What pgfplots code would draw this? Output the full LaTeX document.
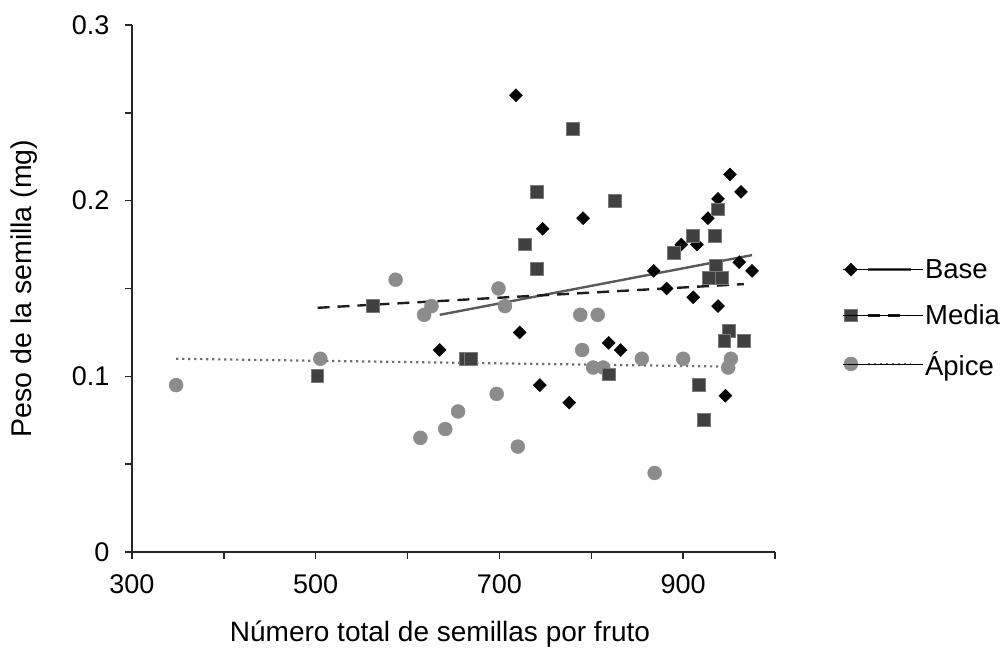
\documentclass[border=0pt]{standalone}
\usepackage{fontspec}
\setmainfont{Liberation Sans}
\usepackage{pgfplots}
\pgfplotsset{compat=1.18}

\definecolor{axisgray}{HTML}{262626}
\definecolor{basefill}{HTML}{050505}
\definecolor{medfill}{HTML}{404040}
\definecolor{medborder}{HTML}{7A7A7A}
\definecolor{apifill}{HTML}{8C8C8C}
\definecolor{baseln}{HTML}{5A5A5A}
\definecolor{medln}{HTML}{1E1E1E}
\definecolor{apiln}{HTML}{6E6E6E}

\tikzset{
  basemark/.style={mark=square*, mark size=4.6pt,
    mark options={rotate=45, fill=basefill, draw=basefill, line width=0.4pt, solid}},
  medmark/.style={mark=square*, mark size=6.4pt,
    mark options={fill=medfill, draw=medborder, line width=1pt, solid}},
  apimark/.style={mark=*, mark size=7pt,
    mark options={fill=apifill, draw=apifill, line width=0.4pt, solid}},
  basetrend/.style={color=baseln, line width=2.4pt, solid},
  medtrend/.style={color=medln, line width=2.4pt, dash pattern=on 12pt off 8pt},
  apitrend/.style={color=apiln, line width=2.2pt, dash pattern=on 2.2pt off 3.8pt},
}

\begin{document}
\begin{tikzpicture}[x=1pt,y=1pt]
\path[use as bounding box] (-132,-100) rectangle (871,552);
\begin{axis}[
  at={(0,0)}, anchor=south west,
  scale only axis, width=643pt, height=527pt,
  xmin=300, xmax=1000, ymin=0, ymax=0.3,
  axis x line*=bottom, axis y line*=left,
  axis line style={line width=1.4pt, color=axisgray},
  xtick={300,400,500,600,700,800,900,1000},
  xticklabels={300,,500,,700,,900,},
  ytick={0,0.05,0.1,0.15,0.2,0.25,0.3},
  yticklabels={0,,0.1,,0.2,,0.3},
  tick align=outside, major tick length=7pt,
  tick style={line width=1.4pt, color=axisgray},
  ticklabel style={font=\fontsize{27}{32}\selectfont, text=black},
  xticklabel style={yshift=-12pt},
  yticklabel style={xshift=-12pt},
  xlabel={Número total de semillas por fruto},
  ylabel={Peso de la semilla (mg)},
  xlabel style={at={(axis description cs:0.479,-0.155)}, anchor=center,
    font=\fontsize{28}{33}\selectfont, text=black},
  ylabel style={at={(axis description cs:-0.168,0.50)}, anchor=center,
    font=\fontsize{28.5}{33}\selectfont, text=black},
  clip=false,
  legend style={at={(axis description cs:1.105,0.444)}, anchor=west,
    draw=none, fill=none, font=\fontsize{27.5}{32}\selectfont,
    row sep=21pt, inner sep=0pt},
  legend cell align=left,
]
% Base (diamonds)
\addplot[only marks, basemark, forget plot] coordinates {
  (718,0.260) (747,0.184) (791,0.190) (722,0.125) (635,0.115)
  (744,0.095) (776,0.085) (819,0.119) (832,0.115) (868,0.160)
  (882,0.150) (898,0.175) (915,0.175) (911,0.145) (927,0.190)
  (938,0.201) (938,0.140) (951,0.215) (963,0.205) (961,0.165)
  (975,0.160) (946,0.089)
};
% Apice (circles)
\addplot[only marks, apimark, forget plot] coordinates {
  (348,0.095) (505,0.110) (587,0.155) (618,0.135) (626,0.140)
  (614,0.065) (641,0.070) (655,0.080) (697,0.090) (699,0.150)
  (706,0.140) (720,0.060) (788,0.135) (807,0.135) (790,0.115)
  (802,0.105) (813,0.105) (855,0.110) (900,0.110) (869,0.045)
  (952,0.110) (949,0.105)
};
% Media (squares)
\addplot[only marks, medmark, forget plot] coordinates {
  (502,0.100) (562,0.140) (663,0.110) (669,0.110) (728,0.175)
  (741,0.205) (741,0.161) (780,0.241) (826,0.200) (819,0.101)
  (890,0.170) (911,0.180) (935,0.180) (938,0.195) (936,0.163)
  (928,0.156) (942,0.156) (917,0.095) (923,0.075) (950,0.126)
  (945,0.120) (966,0.120)
};
% linear trends
\addplot[basetrend, forget plot] coordinates {(635,0.135) (975,0.169)};
\addplot[medtrend, forget plot] coordinates {(502,0.139) (966,0.1525)};
\addplot[apitrend, forget plot] coordinates {(348,0.110) (952,0.1055)};

% legend entries: marker followed by the trend-line style
\addlegendimage{legend image code/.code={
  \draw plot[only marks, basemark] coordinates {(8pt,0pt)};
  \draw[basetrend] (25pt,0pt) -- (68pt,0pt);
  \path (0pt,0pt) -- (80pt,0pt);}}
\addlegendentry{Base}
\addlegendimage{legend image code/.code={
  \draw plot[only marks, medmark] coordinates {(8pt,0pt)};
  \draw[medtrend] (25pt,0pt) -- (65pt,0pt);
  \path (0pt,0pt) -- (80pt,0pt);}}
\addlegendentry{Media}
\addlegendimage{legend image code/.code={
  \draw plot[only marks, apimark] coordinates {(8pt,0pt)};
  \draw[apitrend] (25pt,0pt) -- (68pt,0pt);
  \path (0pt,0pt) -- (80pt,0pt);}}
\addlegendentry{Ápice}
\end{axis}
\end{tikzpicture}
\end{document}
